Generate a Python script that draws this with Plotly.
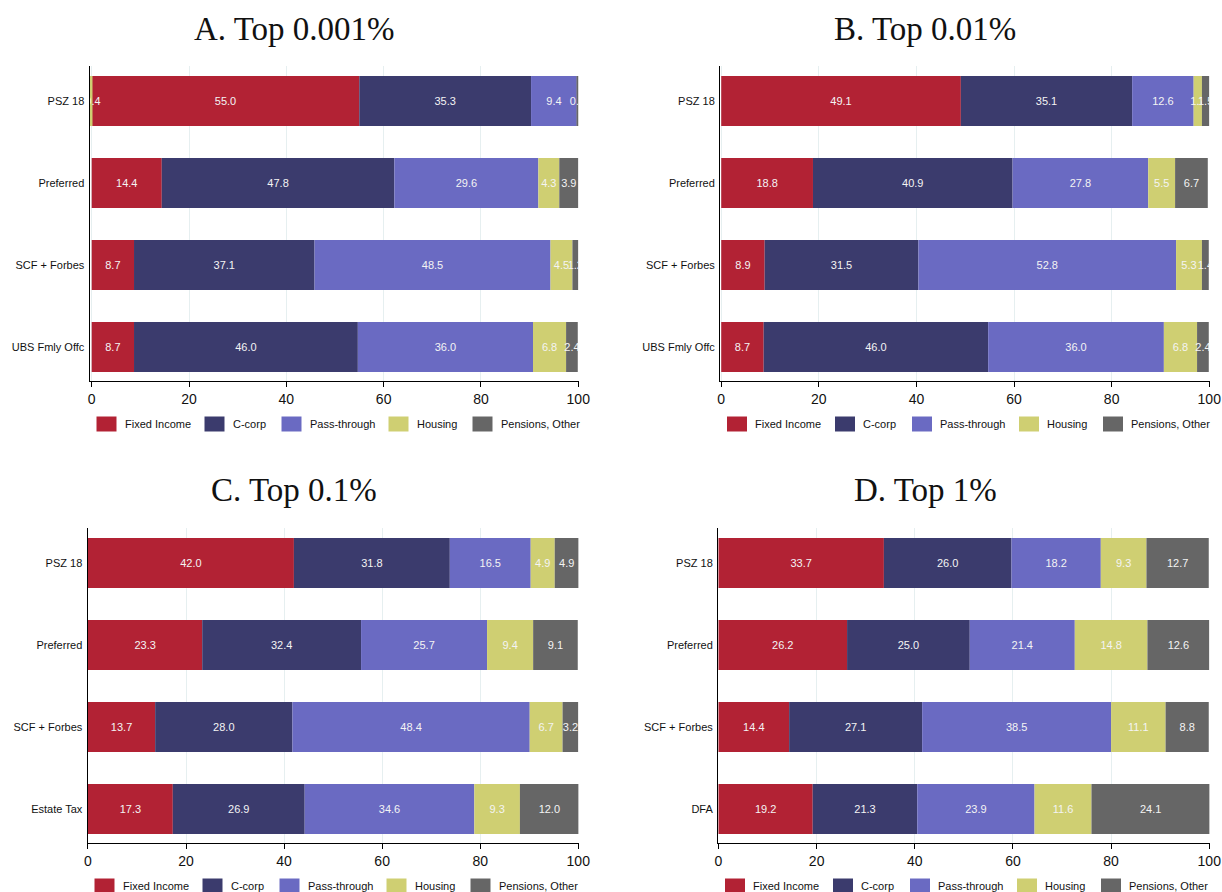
import plotly.graph_objects as go

# Portfolio composition (% of wealth) by asset class, four wealth groups
components = ["Fixed Income", "C-corp", "Pass-through", "Housing", "Pensions, Other"]
colors = ["#b22234", "#3b3b6d", "#6a6ac2", "#cfcf72", "#666666"]

titles = ["A. Top 0.001%", "B. Top 0.01%", "C. Top 0.1%", "D. Top 1%"]

rows_a = ["PSZ 18", "Preferred", "SCF + Forbes", "UBS Fmly Offc"]
fixed_a = [55.0, 14.4, 8.7, 8.7]
ccorp_a = [35.3, 47.8, 37.1, 46.0]
pass_a = [9.4, 29.6, 48.5, 36.0]
housing_a = [-0.4, 4.3, 4.5, 6.8]
other_a = [0.3, 3.9, 1.2, 2.4]

rows_b = ["PSZ 18", "Preferred", "SCF + Forbes", "UBS Fmly Offc"]
fixed_b = [49.1, 18.8, 8.9, 8.7]
ccorp_b = [35.1, 40.9, 31.5, 46.0]
pass_b = [12.6, 27.8, 52.8, 36.0]
housing_b = [1.7, 5.5, 5.3, 6.8]
other_b = [1.5, 6.7, 1.4, 2.4]

rows_c = ["PSZ 18", "Preferred", "SCF + Forbes", "Estate Tax"]
fixed_c = [42.0, 23.3, 13.7, 17.3]
ccorp_c = [31.8, 32.4, 28.0, 26.9]
pass_c = [16.5, 25.7, 48.4, 34.6]
housing_c = [4.9, 9.4, 6.7, 9.3]
other_c = [4.9, 9.1, 3.2, 12.0]

rows_d = ["PSZ 18", "Preferred", "SCF + Forbes", "DFA"]
fixed_d = [33.7, 26.2, 14.4, 19.2]
ccorp_d = [26.0, 25.0, 27.1, 21.3]
pass_d = [18.2, 21.4, 38.5, 23.9]
housing_d = [9.3, 14.8, 11.1, 11.6]
other_d = [12.7, 12.6, 8.8, 24.1]

x_ticks = [0, 20, 40, 60, 80, 100]

W, H = 1222, 892

panels = [
    (rows_a, [fixed_a, ccorp_a, pass_a, housing_a, other_a]),
    (rows_b, [fixed_b, ccorp_b, pass_b, housing_b, other_b]),
    (rows_c, [fixed_c, ccorp_c, pass_c, housing_c, other_c]),
    (rows_d, [fixed_d, ccorp_d, pass_d, housing_d, other_d]),
]

# plot areas in pixels: (left, right, top, bottom), plus x-axis lower bound
boxes = [
    (89.5, 578.5, 66, 381, -0.45),
    (720, 1209.5, 66, 381, -0.25),
    (87.5, 578.5, 528, 843, -0.1),
    (718, 1209.5, 528, 843, -0.1),
]
title_x = [294, 925, 294, 925]
title_y = [29, 29, 490, 490]

SANS = "Liberation Sans, Arial, sans-serif"
SERIF = "Liberation Serif, Times New Roman, serif"
GRID = "#e6eff0"

fig = go.Figure()
layout = dict(
    width=W, height=H,
    margin=dict(l=0, r=0, t=0, b=0, autoexpand=False),
    paper_bgcolor="white", plot_bgcolor="white",
    barmode="relative", bargap=0.39,
    showlegend=False,
    font=dict(family=SANS, color="#111111"),
    annotations=[], shapes=[],
)

for i, (rows, series) in enumerate(panels):
    n = i + 1
    xa = "x" if n == 1 else f"x{n}"
    ya = "y" if n == 1 else f"y{n}"
    for name, vals, col in zip(components, series, colors):
        fig.add_trace(go.Bar(
            y=rows, x=vals, name=name, orientation="h",
            marker=dict(color=col, line=dict(width=0)),
            texttemplate="%{x:.1f}", textposition="inside",
            insidetextanchor="middle", textangle=0, constraintext="none",
            textfont=dict(color="#f4f4f4", size=11, family=SANS),
            xaxis=xa, yaxis=ya, hoverinfo="skip",
        ))
    left, right, top, bottom, xmin = boxes[i]
    xdom = [left / W, right / W]
    ydom = [1 - bottom / H, 1 - top / H]
    pitch = 82.0
    span = (bottom - top) / pitch
    first = 35.0 / pitch
    key_x = "xaxis" if n == 1 else f"xaxis{n}"
    key_y = "yaxis" if n == 1 else f"yaxis{n}"
    layout[key_x] = dict(
        domain=xdom, anchor=ya, range=[xmin, 100.05], automargin=False,
        tickvals=x_ticks, ticktext=[str(t) for t in x_ticks],
        showgrid=True, gridcolor=GRID, gridwidth=1,
        showline=True, linecolor="#000000", linewidth=1,
        ticks="outside", ticklen=5, tickcolor="#000000",
        tickfont=dict(size=14, family=SANS, color="#111111"),
        zeroline=False, fixedrange=True,
    )
    layout[key_y] = dict(
        domain=ydom, anchor=xa, type="category", automargin=False,
        categoryorder="array", categoryarray=rows,
        range=[span - first, -first],
        showline=True, linecolor="#000000", linewidth=1,
        ticks="", ticklabelstandoff=2,
        tickfont=dict(size=11, family=SANS, color="#111111"),
        showgrid=False, zeroline=False, fixedrange=True,
    )
    # panel title
    layout["annotations"].append(dict(
        text=titles[i], x=title_x[i] / W, y=1 - title_y[i] / H,
        xref="paper", yref="paper", xanchor="center", yanchor="middle",
        showarrow=False, font=dict(family=SERIF, size=33, color="#111111"),
    ))
    # legend row under each panel
    offsets = [7, 115, 192, 299, 383]
    ly = bottom + 43
    for name, col, off in zip(components, colors, offsets):
        sx = left + off
        layout["shapes"].append(dict(
            type="rect", xref="paper", yref="paper",
            x0=sx / W, x1=(sx + 20) / W,
            y0=1 - (ly + 7.5) / H, y1=1 - (ly - 7.5) / H,
            fillcolor=col, line=dict(width=0),
        ))
        layout["annotations"].append(dict(
            text=name, x=(sx + 26) / W, y=1 - ly / H,
            xref="paper", yref="paper", xanchor="left", yanchor="middle",
            showarrow=False, font=dict(family=SANS, size=11, color="#111111"),
        ))

fig.update_layout(**layout)
fig.write_html("out.html")
